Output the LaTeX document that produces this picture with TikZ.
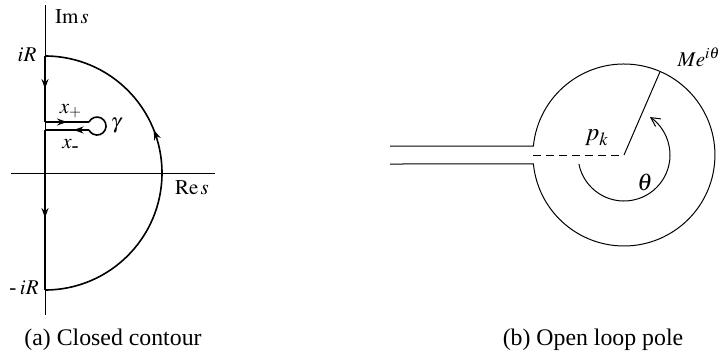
\documentclass[tikz,border=0pt]{standalone}
\usepackage{mathptmx}
\usepackage{fontspec}
\setmainfont{Liberation Serif}
\usetikzlibrary{arrows.meta,decorations.markings}

\begin{document}
\begin{tikzpicture}[x=0.5pt,y=0.5pt,
  axis/.style={line width=0.5pt},
  contour/.style={line width=0.8pt},
  thinline/.style={line width=0.5pt},
  flow/.style={postaction={decorate,decoration={markings,
      mark=at position #1 with {\arrow{Stealth[length=5pt,width=3.5pt]}}}}},
  lbl/.style={font=\fontsize{10.5}{12}\selectfont, inner sep=1pt},
  caption/.style={font=\fontsize{11.9}{14}\selectfont, inner sep=1pt}]
  \useasboundingbox (0,0) rectangle (725,-354);
  % (a) closed contour
  \coordinate (O) at (45,-173);
  \coordinate (top) at (45,-5);
  \coordinate (bot) at (45,-315);
  \coordinate (west) at (11,-173);
  \coordinate (east) at (215,-173);
  \coordinate (iR) at (45,-56);
  \coordinate (miR) at (45,-290);
  \coordinate (up0) at (45,-122);
  \coordinate (up1) at (89,-122);
  \coordinate (lo0) at (45,-130);
  \coordinate (lo1) at (89,-130);
  \draw[axis] (top) -- (bot);
  \draw[axis] (west) -- (east);
  \draw[contour,flow=0.5] (iR) -- (up0);
  \draw[contour,flow=0.5] (up0) -- (up1);
  \draw[contour] (up1) arc[start angle=153.4,end angle=-153.4,radius=9];
  \draw[contour,flow=0.35] (lo1) -- (lo0);
  \draw[contour,flow=0.55] (lo0) -- (miR);
  \draw[contour,flow=0.62] (miR) arc[start angle=-90,end angle=90,radius=117];
  \node[lbl] (ims) at (72,-17) {$\mathrm{Im}\,s$};
  \node[lbl] (res) at (192,-188) {$\mathrm{Re}\,s$};
  \node[lbl] (iRl) at (27,-55) {$iR$};
  \node[lbl] (miRl) at (24,-288) {\mbox{-}\,$iR$};
  \node[lbl] (xp) at (71,-111) {$x_+$};
  \node[lbl] (xm) at (71,-146) {$x_{\mbox{-}}$};
  \node[lbl] (gam) at (116,-126) {$\gamma$};
  \node[caption] (capa) at (113,-340) {(a) Closed contour};
  % (b) open loop pole
  \coordinate (P) at (624,-155);
  \coordinate (ta) at (390,-146);
  \coordinate (tb) at (533.4,-146);
  \coordinate (ba) at (390,-164);
  \coordinate (cut) at (533.4,-155);
  \draw[thinline] (ta) -- (tb) arc[start angle=174.33,end angle=-174.33,radius=91] -- (ba);
  \draw[thinline,dash pattern=on 4pt off 2.5pt] (cut) -- (P);
  \draw[thinline] (P) -- ++(66.6:91) coordinate (rim);
  \draw[thinline,-{Straight Barb[angle=55:5pt]}] (P) ++(191.3:46)
    arc[start angle=191.3,end angle=415.6,radius=46];
  \node[lbl,font=\fontsize{12.5}{14}\selectfont] (pk) at (597,-138) {$p_k$};
  \node[lbl,font=\fontsize{12}{14}\selectfont] (th) at (645,-182) {$\theta$};
  \node[lbl] (mei) at (699,-57) {$Me^{i\theta}$};
  \node[caption] (capb) at (593,-340) {(b) Open loop pole};
\end{tikzpicture}
\end{document}
